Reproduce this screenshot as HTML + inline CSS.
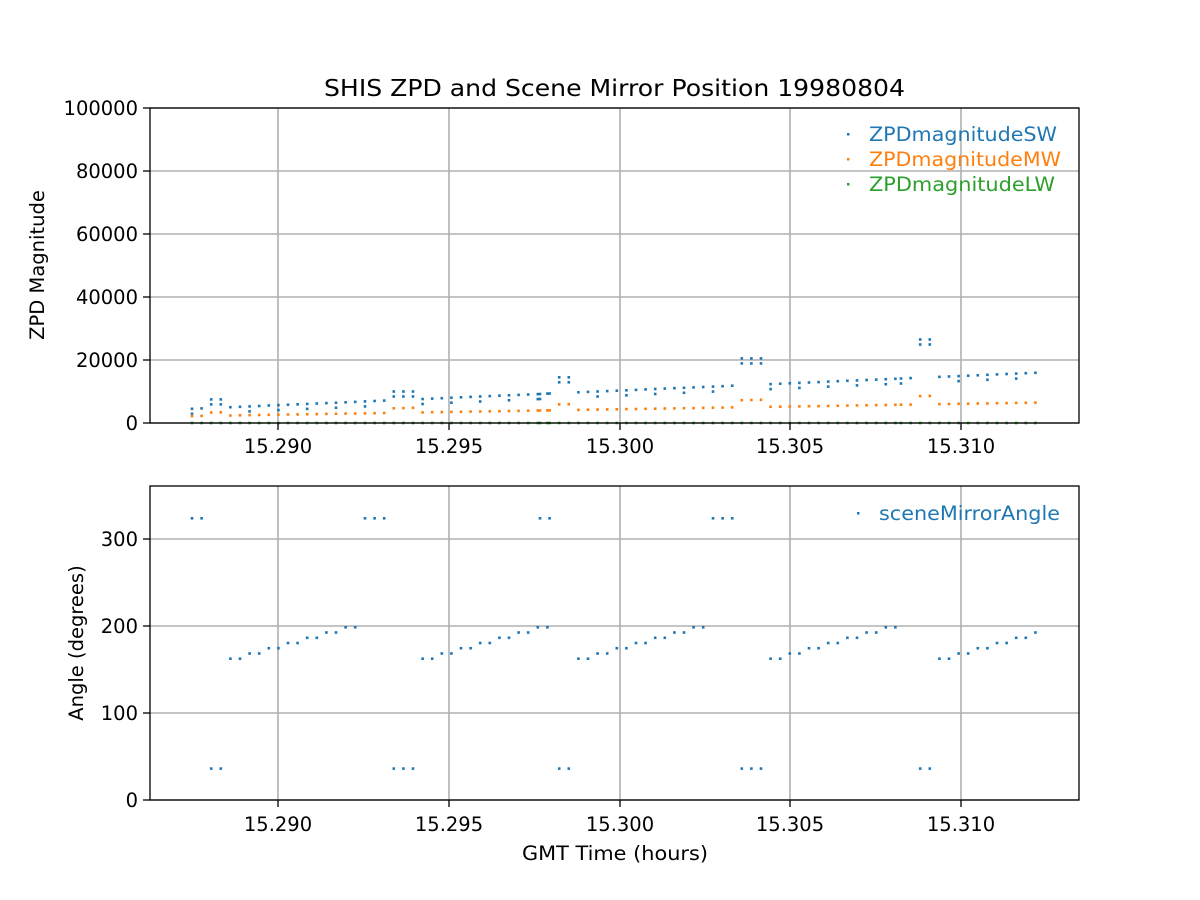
<!DOCTYPE html>
<html><head><meta charset="utf-8"><style>body{margin:0;background:#fff}svg{display:block}text{font-family:"DejaVu Sans","Liberation Sans",sans-serif}</style></head>
<body>
<svg id="s" width="1200" height="900" xmlns="http://www.w3.org/2000/svg">
<rect width="1200" height="900" fill="#fff"/>
<g id="grid" stroke="#b0b0b0" stroke-width="1.6"></g>
<g id="dots"></g>
<g fill="none" stroke="#000" stroke-width="1.3">
<rect x="150" y="108" width="929" height="315"/>
<rect x="150" y="486" width="929" height="314"/>
</g>
<g id="ticks" stroke="#000" stroke-width="1.3"></g>
<g id="labels" font-size="19.5" fill="#000"></g>
<text x="614.5" y="96" font-size="23" text-anchor="middle" textLength="581" lengthAdjust="spacingAndGlyphs">SHIS ZPD and Scene Mirror Position 19980804</text>
<text x="615" y="860" font-size="19.5" text-anchor="middle" textLength="186" lengthAdjust="spacingAndGlyphs">GMT Time (hours)</text>
<text transform="translate(44,265) rotate(-90)" font-size="19.5" text-anchor="middle">ZPD Magnitude</text>
<text transform="translate(83,643) rotate(-90)" font-size="19.5" text-anchor="middle">Angle (degrees)</text>
<g font-size="19.5">
<rect x="847" y="133" width="2.5" height="2.5" fill="#1f77b4"/>
<text x="869" y="141" fill="#1f77b4" textLength="188" lengthAdjust="spacingAndGlyphs">ZPDmagnitudeSW</text>
<rect x="847" y="158" width="2.5" height="2.5" fill="#ff7f0e"/>
<text x="869" y="166" fill="#ff7f0e" textLength="192" lengthAdjust="spacingAndGlyphs">ZPDmagnitudeMW</text>
<rect x="847" y="183" width="2.5" height="2.5" fill="#2ca02c"/>
<text x="869" y="191" fill="#2ca02c" textLength="186" lengthAdjust="spacingAndGlyphs">ZPDmagnitudeLW</text>
<rect x="857" y="512" width="2.5" height="2.5" fill="#1f77b4"/>
<text x="879" y="520" fill="#1f77b4" textLength="181" lengthAdjust="spacingAndGlyphs">sceneMirrorAngle</text>
</g>
</svg>
<script>
var NS="http://www.w3.org/2000/svg";
function el(p,t,a,txt){var e=document.createElementNS(NS,t);for(var k in a)e.setAttribute(k,a[k]);if(txt!==undefined)e.textContent=txt;document.getElementById(p).appendChild(e);}
var xt=[[278,"15.290"],[449,"15.295"],[620,"15.300"],[790,"15.305"],[961,"15.310"]];
xt.forEach(function(t){
 el("grid","line",{x1:t[0],x2:t[0],y1:108,y2:423});
 el("grid","line",{x1:t[0],x2:t[0],y1:486,y2:800});
 el("ticks","line",{x1:t[0],x2:t[0],y1:423,y2:430});
 el("ticks","line",{x1:t[0],x2:t[0],y1:800,y2:807});
 el("labels","text",{x:t[0],y:453,"text-anchor":"middle"},t[1]);
 el("labels","text",{x:t[0],y:831,"text-anchor":"middle"},t[1]);
});
[[423,"0"],[360,"20000"],[297,"40000"],[234,"60000"],[171,"80000"],[108,"100000"]].forEach(function(t){
 el("grid","line",{x1:150,x2:1079,y1:t[0],y2:t[0]});
 el("ticks","line",{x1:143,x2:150,y1:t[0],y2:t[0]});
 el("labels","text",{x:138,y:t[0]+7,"text-anchor":"end"},t[1]);
});
[[800,"0"],[713,"100"],[626,"200"],[539,"300"]].forEach(function(t){
 el("grid","line",{x1:150,x2:1079,y1:t[0],y2:t[0]});
 el("ticks","line",{x1:143,x2:150,y1:t[0],y2:t[0]});
 el("labels","text",{x:138,y:t[0]+7,"text-anchor":"end"},t[1]);
});
function d(x,y,c){el("dots","rect",{x:(x-1.3).toFixed(1),y:(y-1.3).toFixed(1),width:2.6,height:2.6,fill:c});}
var B="#1f77b4",O="#ff7f0e",G="#2ca02c";
var starts=[192,365,540,713,901];
var groups=[2,3,2,3,2];
var spikes=[7500,10000,14500,20500,26500];
var sp=9.6;
starts.forEach(function(s,ci){
 var n=groups[ci];
 var seq=[];for(var k=0;k<n;k++)seq.push(323);for(k=0;k<n;k++)seq.push(36);
 [162,168,174,180,186,192,198].forEach(function(v){seq.push(v,v);});
 seq.forEach(function(v,j){
  var x=s+j*sp; if(x>1042)return;
  if(!(ci==4&&v==323))d(x,800-v*0.8722,B);
  var t=(x-192)/848;
  var sw=4500+11500*t, mw=2200+4300*t;
  if(v==36){sw=spikes[ci];mw=mw*1.45;}
  var ysw=423-sw*0.00315, ymw=423-mw*0.00315;
  d(x,ysw,B); if(j%3==0||v==36)d(x,ysw+5,B);
  d(x,ymw,O);
  d(x,423,G);
 });
});
</script>
</body></html>
